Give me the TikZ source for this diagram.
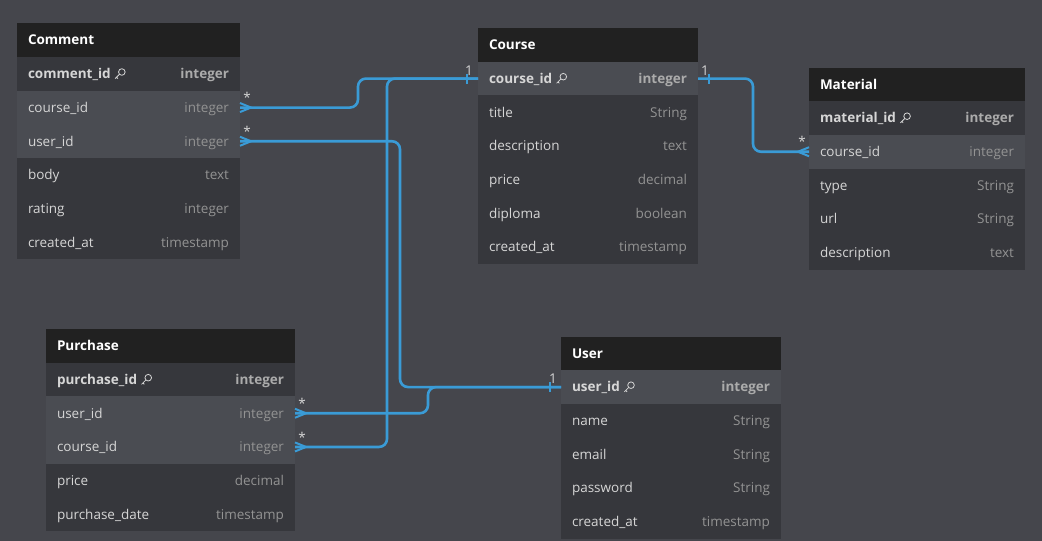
\documentclass[tikz,border=0pt]{standalone}
\usepackage{fontspec}
\setmainfont{Open Sans}
\usepackage{tikz}
\usetikzlibrary{positioning}
\newcommand\RH{33.7}

\definecolor{canvas}{HTML}{45464C}
\definecolor{headbg}{HTML}{212121}
\definecolor{rowbg}{HTML}{36373C}
\definecolor{fkbg}{HTML}{4A4C52}
\definecolor{namecol}{HTML}{D6D6D6}
\definecolor{typecol}{HTML}{939393}
\definecolor{pkcol}{HTML}{ABABAB}
\definecolor{linkcol}{HTML}{3A9BD6}

\newcommand\keyicon{\tikz[x=1pt,y=1pt,baseline=0pt,line width=0.8pt]{
  \draw[namecol] (7.2,6.6) circle (3.3);
  \draw[namecol] (4.8,4.3) -- (0.5,0) (1.9,1.3) -- (3.3,0);}}
\newcommand\fld[2]{#1\hfill\textcolor{typecol}{#2}}
\newcommand\pk[2]{\textbf{#1}\hspace{4pt}\keyicon\hfill\textcolor{pkcol}{\textbf{#2}}}
\newcommand\many[2]{\draw[foot] ([yshift=4.5pt]#1) -- ([xshift=#2]#1) -- ([yshift=-4.5pt]#1);}
\newcommand\one[2]{\draw[foot] ([xshift=#2,yshift=5pt]#1) -- ([xshift=#2,yshift=-5pt]#1);}

\begin{document}
\begin{tikzpicture}[x=1pt,y=-1pt,
    every node/.style={font=\fontsize{13.5pt}{15pt}\selectfont},
    link/.style={draw=linkcol,line width=2.6pt,rounded corners=8pt},
    foot/.style={draw=linkcol,line width=2pt}]

  \tikzstyle{cell}=[inner xsep=11pt,inner ysep=0pt,outer sep=0pt,minimum height=\RH pt,
                    text height=11.5pt,text depth=2pt,text=namecol]
  \tikzstyle{head}=[cell,anchor=north west,fill=headbg,text=white,
                    font=\fontsize{13.5pt}{15pt}\selectfont\bfseries]
  \tikzstyle{row}=[cell,fill=rowbg]
  \tikzstyle{fkrow}=[cell,fill=fkbg]
  \tikzstyle{card}=[inner sep=0pt,text=namecol]

  \useasboundingbox (0,0) rectangle (1042,541);
  \fill[canvas] (0,0) rectangle (1042,541);

  \begin{scope}[text width=201pt]
  \node[head] (cm) at (17,23.3) {Comment};
  \node[row,   below=0pt of cm]        (cm-id)      {\pk{comment\_id}{integer}};
  \node[fkrow, below=0pt of cm-id]     (cm-course)  {\fld{course\_id}{integer}};
  \node[fkrow, below=0pt of cm-course] (cm-user)    {\fld{user\_id}{integer}};
  \node[row,   below=0pt of cm-user]   (cm-body)    {\fld{body}{text}};
  \node[row,   below=0pt of cm-body]   (cm-rating)  {\fld{rating}{integer}};
  \node[row,   below=0pt of cm-rating] (cm-created) {\fld{created\_at}{timestamp}};
  \end{scope}

  \begin{scope}[text width=198pt]
  \node[head] (co) at (478,28) {Course};
  \node[fkrow, below=0pt of co]        (co-id)      {\pk{course\_id}{integer}};
  \node[row,   below=0pt of co-id]     (co-title)   {\fld{title}{String}};
  \node[row,   below=0pt of co-title]  (co-desc)    {\fld{description}{text}};
  \node[row,   below=0pt of co-desc]   (co-price)   {\fld{price}{decimal}};
  \node[row,   below=0pt of co-price]  (co-diploma) {\fld{diploma}{boolean}};
  \node[row,   below=0pt of co-diploma](co-created) {\fld{created\_at}{timestamp}};
  \end{scope}

  \begin{scope}[text width=194pt]
  \node[head] (ma) at (809,67.5) {Material};
  \node[row,   below=0pt of ma]        (ma-id)      {\pk{material\_id}{integer}};
  \node[fkrow, below=0pt of ma-id]     (ma-course)  {\fld{course\_id}{integer}};
  \node[row,   below=0pt of ma-course] (ma-type)    {\fld{type}{String}};
  \node[row,   below=0pt of ma-type]   (ma-url)     {\fld{url}{String}};
  \node[row,   below=0pt of ma-url]    (ma-desc)    {\fld{description}{text}};
  \end{scope}

  \begin{scope}[text width=227pt]
  \node[head] (pu) at (46,329) {Purchase};
  \node[row,   below=0pt of pu]        (pu-id)      {\pk{purchase\_id}{integer}};
  \node[fkrow, below=0pt of pu-id]     (pu-user)    {\fld{user\_id}{integer}};
  \node[fkrow, below=0pt of pu-user]   (pu-course)  {\fld{course\_id}{integer}};
  \node[row,   below=0pt of pu-course] (pu-price)   {\fld{price}{decimal}};
  \node[row,   below=0pt of pu-price]  (pu-date)    {\fld{purchase\_date}{timestamp}};
  \end{scope}

  \begin{scope}[text width=198pt]
  \node[head] (us) at (561,336.5) {User};
  \node[fkrow, below=0pt of us]        (us-id)      {\pk{user\_id}{integer}};
  \node[row,   below=0pt of us-id]     (us-name)    {\fld{name}{String}};
  \node[row,   below=0pt of us-name]   (us-email)   {\fld{email}{String}};
  \node[row,   below=0pt of us-email]  (us-pass)    {\fld{password}{String}};
  \node[row,   below=0pt of us-pass]   (us-created) {\fld{created\_at}{timestamp}};
  \end{scope}

  \draw[link] (cm-course.east) -- ++(118,0) |- (co-id.west);
  \draw[link] (cm-user.east)   -- ++(160,0) |- (us-id.west);
  \draw[link] (pu-user.east)   -- ++(133,0) |- (us-id.west);
  \draw[link] (pu-course.east) -- ++(92,0)  |- (co-id.west);
  \draw[link] (co-id.east)     -- ++(55,0)  |- (ma-course.west);

  \many{cm-course.east}{11pt}  \many{cm-user.east}{11pt}
  \many{pu-user.east}{11pt}    \many{pu-course.east}{11pt}
  \many{ma-course.west}{-11pt}
  \one{co-id.west}{-11pt} \one{co-id.east}{11pt} \one{us-id.west}{-11pt}

  \node[card] (n1) at ([xshift=-9pt,yshift=8pt]co-id.west) {1};
  \node[card] (n2) at ([xshift=7pt,yshift=8pt]co-id.east)  {1};
  \node[card] (n3) at ([xshift=-8pt,yshift=8pt]us-id.west) {1};
  \node[card] (s1) at ([xshift=7pt,yshift=10pt]cm-course.east)  {*};
  \node[card] (s2) at ([xshift=7pt,yshift=10pt]cm-user.east)    {*};
  \node[card] (s3) at ([xshift=7pt,yshift=10pt]pu-user.east)    {*};
  \node[card] (s4) at ([xshift=7pt,yshift=10pt]pu-course.east)  {*};
  \node[card] (s5) at ([xshift=-7pt,yshift=10pt]ma-course.west) {*};
\end{tikzpicture}
\end{document}
